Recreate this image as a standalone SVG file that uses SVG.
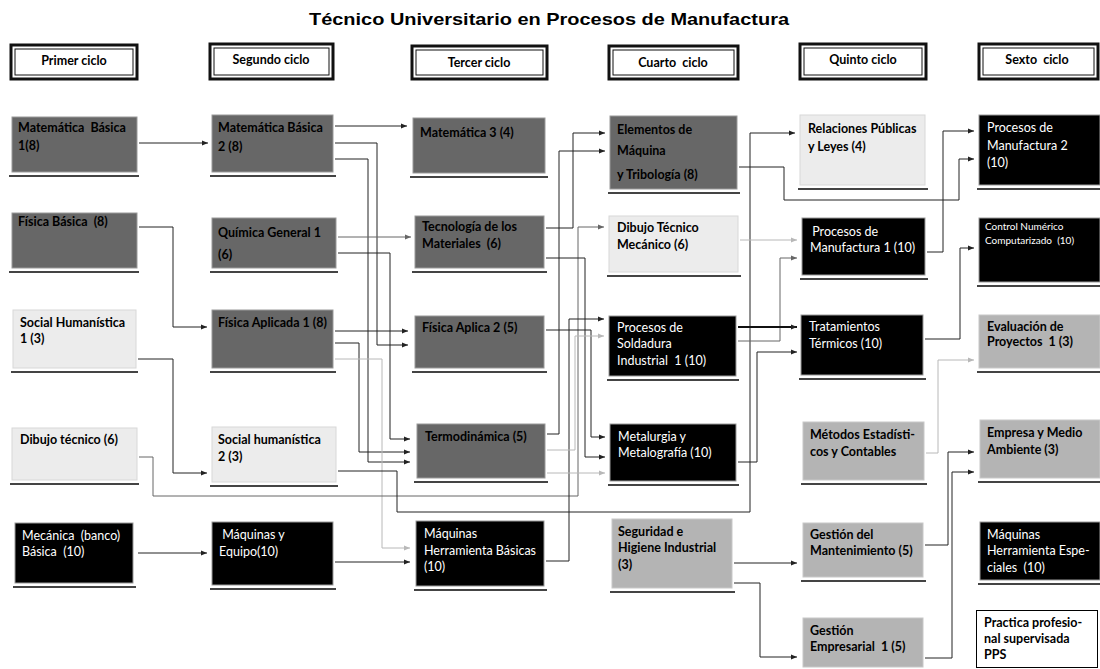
<svg xmlns="http://www.w3.org/2000/svg" width="1100" height="669" viewBox="0 0 1100 669">
<defs>
<style>
.title{font-family:"Liberation Sans",Arial,sans-serif;font-weight:bold;font-size:17px;fill:#000}
.hdr{font-family:Lato,"Liberation Sans",sans-serif;font-weight:bold;font-size:12.5px;fill:#000;white-space:pre}
.t{font-family:Lato,"Liberation Sans",sans-serif;font-size:12.5px;white-space:pre}
.b{font-weight:bold;fill:#000}
.w{fill:#fff}
.dg{fill:#676767;stroke:#9a9a9a;stroke-width:1}
.lg{fill:#ececec;stroke:#d8d8d8;stroke-width:1}
.mg{fill:#b4b4b4;stroke:#c8c8c8;stroke-width:1}
.bk{fill:#000;stroke:#9a9a9a;stroke-width:1}
.wh{fill:#fff;stroke:#000;stroke-width:1}
.sh{fill:none;stroke:#444;stroke-width:2}
.ho{fill:#fff;stroke:#111;stroke-width:3}
.hi{fill:none;stroke:#111;stroke-width:1}
.c{fill:none;stroke:#222;stroke-width:1;marker-end:url(#a)}
.cm{fill:none;stroke:#666;stroke-width:1;marker-end:url(#am)}
.cl{fill:none;stroke:#b8b8b8;stroke-width:1;marker-end:url(#al)}
.ck{fill:none;stroke:#111;stroke-width:2;marker-end:url(#a)}
</style>
<marker id="a" viewBox="0 0 6 6" refX="6" refY="3" markerWidth="6" markerHeight="6" markerUnits="userSpaceOnUse" orient="auto"><path d="M0,0.5 L6,3 L0,5.5 z" fill="#222"/></marker>
<marker id="am" viewBox="0 0 6 6" refX="6" refY="3" markerWidth="6" markerHeight="6" markerUnits="userSpaceOnUse" orient="auto"><path d="M0,0.5 L6,3 L0,5.5 z" fill="#666"/></marker>
<marker id="al" viewBox="0 0 6 6" refX="6" refY="3" markerWidth="6" markerHeight="6" markerUnits="userSpaceOnUse" orient="auto"><path d="M0,0.5 L6,3 L0,5.5 z" fill="#b8b8b8"/></marker>
</defs>
<rect width="1100" height="669" fill="#fff"/>
<text class="title" x="549" y="25" text-anchor="middle" textLength="480" lengthAdjust="spacingAndGlyphs">Técnico Universitario en Procesos de Manufactura</text>

<g id="headers">
<g id="h1"><rect class="ho" x="11" y="45" width="126" height="34"/><rect class="hi" x="15" y="49" width="118" height="26"/><text class="hdr" x="74" y="65" text-anchor="middle">Primer ciclo</text></g>
<g id="h2"><rect class="ho" x="210" y="44" width="123" height="35"/><rect class="hi" x="214" y="48" width="115" height="27"/><text class="hdr" x="271" y="64" text-anchor="middle">Segundo ciclo</text></g>
<g id="h3"><rect class="ho" x="412" y="46" width="135" height="33"/><rect class="hi" x="416" y="50" width="127" height="25"/><text class="hdr" x="479" y="67" text-anchor="middle">Tercer ciclo</text></g>
<g id="h4"><rect class="ho" x="609" y="46" width="129" height="33"/><rect class="hi" x="613" y="50" width="121" height="25"/><text class="hdr" x="673" y="67" text-anchor="middle">Cuarto  ciclo</text></g>
<g id="h5"><rect class="ho" x="800" y="44" width="126" height="35"/><rect class="hi" x="804" y="48" width="118" height="27"/><text class="hdr" x="863" y="64" text-anchor="middle">Quinto ciclo</text></g>
<g id="h6"><rect class="ho" x="979" y="44" width="119" height="35"/><rect class="hi" x="983" y="48" width="111" height="27"/><text class="hdr" x="1037" y="64" text-anchor="middle">Sexto  ciclo</text></g>
</g>

<g id="connectors">
<path class="c" d="M139,143 H208"/>
<path class="c" d="M335,126 H407"/>
<path class="c" d="M335,143 H377 V345 H408"/>
<path class="c" d="M335,159 H368 V462 H410"/>
<path class="cm" d="M338,237 H411"/>
<path class="c" d="M338,253 H390 V439 H410"/>
<path class="c" d="M335,331 H408"/>
<path class="c" d="M335,343 H359 V452 H410"/>
<path class="cl" d="M335,359 H382 V548 H410"/>
<path class="c" d="M139,227 H173 V327 H207"/>
<path class="c" d="M138,359 H173 V473 H207"/>
<path class="cm" d="M139,457 H153 V496 H578 V227 H604"/>
<path class="c" d="M138,553 H207"/>
<path class="c" d="M335,562 H410"/>
<path class="c" d="M338,471 H397 V512 H750 V133 H795"/>
<path class="c" d="M546,228 H573 V133 H605"/>
<path class="c" d="M547,434 H559 V151 H605"/>
<path class="c" d="M546,258 H585 V457 H605"/>
<path class="c" d="M546,330 H591 V437 H605"/>
<path class="c" d="M546,561 H569 V319 H604"/>
<path class="cl" d="M547,450 H575 V336 H604"/>
<path class="cl" d="M547,473 H605"/>
<path class="c" d="M739,167 H784 V200 H959 V159 H974"/>
<path class="c" d="M927,252 H943 V131 H974"/>
<path class="cl" d="M740,240 H797"/>
<path class="cm" d="M738,341 H780 V258 H797"/>
<path class="ck" d="M738,327 H797"/>
<path class="c" d="M738,462 H757 V352 H797"/>
<path class="c" d="M925,339 H960 V248 H974"/>
<path class="cl" d="M926,453 H938 V360 H974"/>
<path class="c" d="M734,563 H797"/>
<path class="c" d="M734,583 H760 V657 H797"/>
<path class="c" d="M925,545 H948 V452 H974"/>
<path class="c" d="M925,658 H952 V472 H974"/>
</g>

<g id="n_mb1"><rect class="dg" x="12" y="117" width="125" height="55"/><path class="sh" d="M9,176 H139"/><text class="t b" x="18" y="132">Matemática  Básica</text><text class="t b" x="18" y="150">1(8)</text></g>
<g id="n_fb"><rect class="dg" x="12" y="213" width="125" height="55"/><path class="sh" d="M9,272 H139"/><text class="t b" x="18" y="226">Física Básica  (8)</text></g>
<g id="n_sh1"><rect class="lg" x="13" y="310" width="123" height="58"/><path class="sh" d="M11,372 H138"/><text class="t b" x="20" y="327">Social Humanística</text><text class="t b" x="20" y="343">1 (3)</text></g>
<g id="n_dt"><rect class="lg" x="12" y="428" width="125" height="52"/><path class="sh" d="M10,484 H139"/><text class="t b" x="20" y="444">Dibujo técnico (6)</text></g>
<g id="n_mec"><rect class="bk" x="15" y="523" width="118" height="60"/><path class="sh" d="M13,587 H136"/><text class="t w" x="22" y="540">Mecánica  (banco)</text><text class="t w" x="22" y="556">Básica  (10)</text></g>

<g id="n_mb2"><rect class="dg" x="212" y="115" width="121" height="57"/><path class="sh" d="M210,176 H336"/><text class="t b" x="218" y="132">Matemática Básica</text><text class="t b" x="218" y="151">2 (8)</text></g>
<g id="n_qg1"><rect class="dg" x="212" y="218" width="124" height="50"/><path class="sh" d="M210,272 H338"/><text class="t b" x="218" y="237">Química General 1</text><text class="t b" x="218" y="259">(6)</text></g>
<g id="n_fa1"><rect class="dg" x="212" y="310" width="121" height="58"/><path class="sh" d="M210,372 H336"/><text class="t b" x="218" y="327">Física Aplicada 1 (8)</text></g>
<g id="n_sh2"><rect class="lg" x="212" y="427" width="124" height="55"/><path class="sh" d="M210,486 H338"/><text class="t b" x="218" y="444">Social humanística</text><text class="t b" x="218" y="461">2 (3)</text></g>
<g id="n_mye"><rect class="bk" x="212" y="522" width="121" height="63"/><path class="sh" d="M210,589 H336"/><text class="t w" x="219" y="539"> Máquinas y</text><text class="t w" x="219" y="556">Equipo(10)</text></g>

<g id="n_m3"><rect class="dg" x="413" y="118" width="132" height="55"/><path class="sh" d="M410,177 H548"/><text class="t b" x="420" y="137">Matemática 3 (4)</text></g>
<g id="n_tm"><rect class="dg" x="415" y="216" width="129" height="52"/><path class="sh" d="M412,272 H547"/><text class="t b" x="422" y="231">Tecnología de los</text><text class="t b" x="422" y="248">Materiales  (6)</text></g>
<g id="n_fa2"><rect class="dg" x="415" y="316" width="129" height="52"/><path class="sh" d="M412,372 H547"/><text class="t b" x="422" y="332">Física Aplica 2 (5)</text></g>
<g id="n_termo"><rect class="dg" x="417" y="424" width="128" height="54"/><path class="sh" d="M414,482 H548"/><text class="t b" x="425" y="441">Termodinámica (5)</text></g>
<g id="n_mhb"><rect class="bk" x="416" y="521" width="128" height="65"/><path class="sh" d="M414,590 H547"/><text class="t w" x="424" y="538">Máquinas</text><text class="t w" x="424" y="555">Herramienta Básicas</text><text class="t w" x="424" y="571">(10)</text></g>

<g id="n_em"><rect class="dg" x="610" y="116" width="127" height="73"/><path class="sh" d="M608,193 H740"/><text class="t b" x="617" y="134">Elementos de</text><text class="t b" x="617" y="155">Máquina</text><text class="t b" x="617" y="179">y Tribología (8)</text></g>
<g id="n_dtm"><rect class="lg" x="609" y="216" width="129" height="56"/><path class="sh" d="M607,276 H741"/><text class="t b" x="617" y="232">Dibujo Técnico</text><text class="t b" x="617" y="249">Mecánico (6)</text></g>
<g id="n_ps"><rect class="bk" x="609" y="316" width="127" height="60"/><path class="sh" d="M607,380 H739"/><text class="t w" x="617" y="332">Procesos de</text><text class="t w" x="617" y="348">Soldadura</text><text class="t w" x="617" y="365">Industrial  1 (10)</text></g>
<g id="n_mm"><rect class="bk" x="610" y="424" width="126" height="57"/><path class="sh" d="M608,485 H739"/><text class="t w" x="618" y="441">Metalurgia y</text><text class="t w" x="618" y="457">Metalografía (10)</text></g>
<g id="n_shi"><rect class="mg" x="612" y="519" width="120" height="69"/><path class="sh" d="M610,592 H735"/><text class="t b" x="618" y="536">Seguridad e</text><text class="t b" x="618" y="552">Higiene Industrial</text><text class="t b" x="618" y="569">(3)</text></g>

<g id="n_rpl"><rect class="lg" x="800" y="115" width="125" height="70"/><path class="sh" d="M798,189 H928"/><text class="t b" x="808" y="133">Relaciones Públicas</text><text class="t b" x="808" y="151">y Leyes (4)</text></g>
<g id="n_pm1"><rect class="bk" x="802" y="218" width="123" height="57"/><path class="sh" d="M800,279 H928"/><text class="t w" x="809" y="236"> Procesos de</text><text class="t w" x="810" y="252">Manufactura 1 (10)</text></g>
<g id="n_tt"><rect class="bk" x="801" y="315" width="122" height="60"/><path class="sh" d="M799,379 H926"/><text class="t w" x="809" y="331">Tratamientos</text><text class="t w" x="809" y="348">Térmicos (10)</text></g>
<g id="n_mest"><rect class="mg" x="803" y="422" width="121" height="58"/><path class="sh" d="M801,484 H927"/><text class="t b" x="810" y="439">Métodos Estadísti-</text><text class="t b" x="810" y="456">cos y Contables</text></g>
<g id="n_gm"><rect class="mg" x="803" y="523" width="120" height="54"/><path class="sh" d="M801,581 H926"/><text class="t b" x="810" y="539">Gestión del</text><text class="t b" x="810" y="555">Mantenimiento (5)</text></g>
<g id="n_ge"><rect class="mg" x="803" y="618" width="120" height="49"/><text class="t b" x="810" y="635">Gestión</text><text class="t b" x="810" y="651">Empresarial  1 (5)</text></g>

<g id="n_pm2"><rect class="bk" x="979" y="115" width="121" height="70"/><path class="sh" d="M977,189 H1100"/><text class="t w" x="987" y="132">Procesos de</text><text class="t w" x="987" y="150">Manufactura 2</text><text class="t w" x="987" y="167">(10)</text></g>
<g id="n_cnc"><rect class="bk" x="979" y="218" width="121" height="64"/><path class="sh" d="M977,286 H1100"/><text class="t w" x="985" y="230" style="font-size:10px">Control Numérico</text><text class="t w" x="985" y="244" style="font-size:10px">Computarizado  (10)</text></g>
<g id="n_ep"><rect class="mg" x="979" y="315" width="121" height="53"/><path class="sh" d="M977,372 H1100"/><text class="t b" x="987" y="331">Evaluación de</text><text class="t b" x="987" y="346">Proyectos  1 (3)</text></g>
<g id="n_ema"><rect class="mg" x="980" y="420" width="120" height="58"/><path class="sh" d="M978,482 H1100"/><text class="t b" x="987" y="437">Empresa y Medio</text><text class="t b" x="987" y="454">Ambiente (3)</text></g>
<g id="n_mhe"><rect class="bk" x="980" y="522" width="120" height="58"/><path class="sh" d="M978,584 H1100"/><text class="t w" x="987" y="539">Máquinas</text><text class="t w" x="987" y="555">Herramienta Espe-</text><text class="t w" x="987" y="572">ciales  (10)</text></g>
<g id="n_pps"><rect class="wh" x="976.5" y="610.5" width="121" height="57"/><text class="t b" x="984" y="627">Practica profesio-</text><text class="t b" x="984" y="643">nal supervisada</text><text class="t b" x="984" y="659">PPS</text></g>
</svg>
